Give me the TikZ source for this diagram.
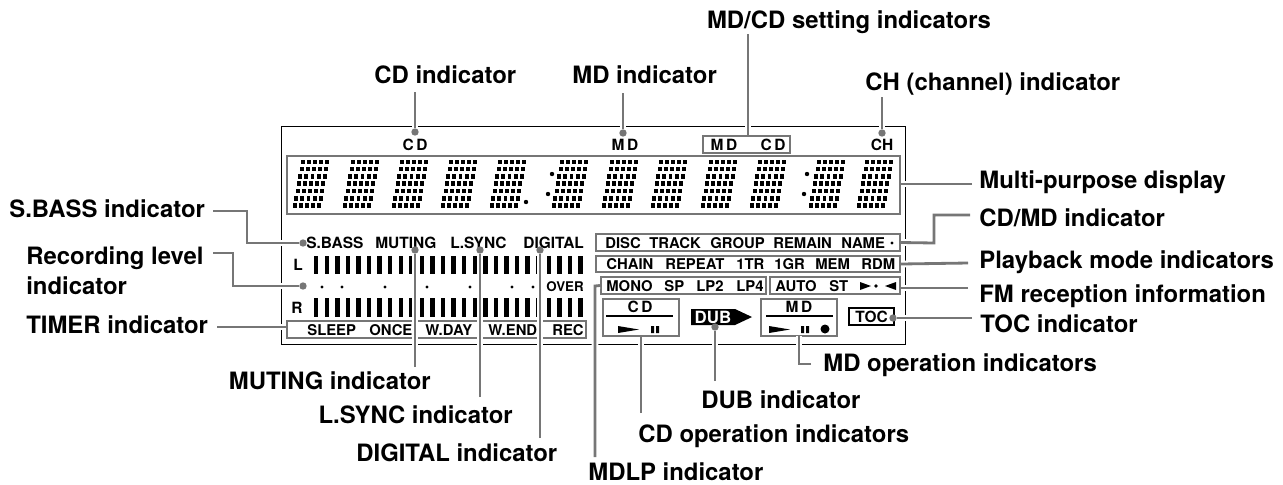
\documentclass[tikz,border=0pt]{standalone}
\usepackage{fontspec}
\usepackage{tikz}
\setmainfont{TeX Gyre Heros}
\definecolor{leadgray}{RGB}{118,118,118}
\newcommand{\dotdigit}[1]{%
  \foreach \r in {0,...,6} \foreach \c in {0,...,4}
    \fill ({#1+\c*6.1-\r*1.33},{159.5+\r*7.3}) rectangle +(3.9,4.6);}
\begin{document}
\begin{tikzpicture}[x=0.02cm, y=-0.02cm,
  callout/.style={inner sep=0, font=\fontsize{13.6}{17}\selectfont\bfseries},
  tag/.style={inner sep=0, anchor=base west, font=\fontsize{8.45}{10}\selectfont\bfseries},
  bigtag/.style={tag, font=\fontsize{8.8}{10}\selectfont\bfseries},
  wide/.style={tag, anchor=base, font=\fontsize{8.8}{10}\selectfont\bfseries},
  panel/.style={draw=leadgray, line width=1.3pt, inner sep=0},
  pin/.style={circle, fill=leadgray, inner sep=0, minimum size=4.2pt},
  lead/.style={draw=leadgray, line width=1.6pt, preaction={draw=white, line width=3.8pt}}]
\useasboundingbox (0,0) rectangle (1283,484);
\draw[line width=0.55pt] (281,126) rectangle (905,344);
% display panels
\node[panel, minimum width=613*0.02cm, minimum height=58*0.02cm] (display) at (593.5,185) {};
\node[panel, minimum width=87*0.02cm, minimum height=17*0.02cm] (settingbox) at (746.5,144.5) {};
\node[panel, minimum width=299*0.02cm, minimum height=17*0.02cm] (timerbox) at (436.5,329.5) {};
\node[panel, minimum width=304*0.02cm, minimum height=17*0.02cm] (discbox) at (748,242.5) {};
\node[panel, minimum width=304*0.02cm, minimum height=16*0.02cm] (modebox) at (748,264) {};
\node[panel, minimum width=165*0.02cm, minimum height=17*0.02cm] (mdlpbox) at (683.5,285.5) {};
\node[panel, minimum width=130*0.02cm, minimum height=17*0.02cm] (fmbox) at (835,285.5) {};
\node[panel, minimum width=76*0.02cm, minimum height=37*0.02cm] (cdbox) at (641,317.5) {};
\node[panel, minimum width=76*0.02cm, minimum height=37*0.02cm] (mdbox) at (799,317.5) {};
\node[draw, line width=0.9pt, inner sep=0, minimum width=45*0.02cm, minimum height=17*0.02cm, font=\fontsize{8.8}{10}\selectfont\bfseries] (tocbox) at (871.5,316.5) {TOC};
% dot matrix digits
\foreach \x in {301,351,400,449,498,560,610,659,709,758,817,865} {\dotdigit{\x}}
\fill (526,202) circle (2.2) (552,174) circle (2.2) (548,194) circle (2.2) (807,174) circle (2.2) (804,194) circle (2.2);
% level bars
\foreach \i in {0,...,25} {
  \fill ({314+\i*10.57},256) rectangle +(4.4,18);
  \fill ({314+\i*10.57},298) rectangle +(4.4,19);}
\foreach \x in {322,342,385,427,470,512,533} {\fill (\x,287) circle (1.7);}
% texts in the display
\node[wide] (cdmark) at (415,150) {C\,D};
\node[wide] (mdmark) at (625,150) {M\,D};
\node[wide] (chmark) at (882,150) {CH};
\node[wide] (setmd) at (724,150) {M\,D};
\node[wide] (setcd) at (773,150) {C\,D};
\node[bigtag] (sbass) at (306,248) {S.BASS};
\node[bigtag] (muting) at (375,248) {MUTING};
\node[bigtag] (lsync) at (450,248) {L.SYNC};
\node[bigtag] (digital) at (523,248) {DIGITAL};
\node[wide] (lmark) at (298,270) {L};
\node[wide] (rmark) at (297,313) {R};
\node[tag, font=\fontsize{7.6}{9}\selectfont\bfseries] (over) at (546,291) {OVER};
\node[tag] (sleep) at (307,335) {SLEEP};
\node[tag] (once) at (369,335) {ONCE};
\node[tag] (wday) at (425,335) {W.DAY};
\node[tag] (wend) at (488,335) {W.END};
\node[tag] (rec) at (552,335) {REC};
\node[tag] (disc) at (605,248) {DISC};
\node[tag] (track) at (649,248) {TRACK};
\node[tag] (group) at (710,248) {GROUP};
\node[tag] (remain) at (773,248) {REMAIN};
\node[tag] (name) at (841,248) {NAME};
\node[circle, fill, inner sep=0, minimum size=1.9pt] (namedot) at (892,243) {};
\node[tag] (chain) at (606,269) {CHAIN};
\node[tag] (repeat) at (665,269) {REPEAT};
\node[tag] (tr) at (736,269) {1TR};
\node[tag] (gr) at (774,269) {1GR};
\node[tag] (mem) at (815,269) {MEM};
\node[tag] (rdm) at (861,269) {RDM};
\node[tag] (mono) at (606,291) {MONO};
\node[tag] (sp) at (664,291) {SP};
\node[tag] (lptwo) at (696,291) {LP2};
\node[tag] (lpfour) at (736,291) {LP4};
\node[tag] (auto) at (775,291) {AUTO};
\node[tag] (st) at (829,291) {ST};
\fill (860,282) -- (871,286) -- (860,290) -- cycle;
\fill (876,286) circle (1.9);
\fill (896,282) -- (885,286) -- (896,290) -- cycle;
% transport marks
\node[wide] (cdhead) at (640,312) {C\,D};
\node[wide] (mdhead) at (799,312) {M\,D};
\draw[line width=0.6pt] (606,316) -- (673,316) (766,316) -- (833,316);
\fill (618,326) -- (639,329.5) -- (618,333) -- cycle;
\fill (651,326) rectangle +(3.2,7) (656,326) rectangle +(3.2,7);
\fill (769,326) -- (790,329.5) -- (769,333) -- cycle;
\fill (801,326) rectangle +(3.2,7) (806,326) rectangle +(3.2,7);
\fill (825,329) circle (4.5);
\fill (691,309) -- (735,309) -- (752,317) -- (735,325) -- (691,325) -- cycle;
\node[inner sep=0, white, font=\fontsize{9.6}{10}\selectfont\bfseries] (dub) at (713,317) {DUB};
% pins and free ends of the leaders
\node[pin] (pcd) at (415,132) {};
\node[pin] (pmd) at (623,133) {};
\node[pin] (pch) at (882,133) {};
\node[pin] (psbass) at (303,243) {};
\node[pin] (plevel) at (303,286) {};
\node[pin] (pmuting) at (415,250) {};
\node[pin] (plsync) at (480,250) {};
\node[pin] (pdigital) at (540,250) {};
\node[pin] (pdub) at (715,327) {};
\node[pin] (ptoc) at (893,318) {};
\coordinate (ecd) at (415,92);
\coordinate (emd) at (623,93);
\coordinate (eset) at (748,34);
\coordinate (ech) at (882,97);
\coordinate (esbass) at (213,211);
\coordinate (elevel) at (213,253);
\coordinate (etimer) at (217,327);
\coordinate (emuting) at (415,367);
\coordinate (elsync) at (480,397);
\coordinate (edigital) at (540,438);
\coordinate (emdlp) at (595,457);
\coordinate (ecdop) at (641,413);
\coordinate (edub) at (715,381);
\coordinate (emdop) at (811,364);
\coordinate (emulti) at (972,184);
\coordinate (ecdmd) at (970,215);
\coordinate (emode) at (968,263);
\coordinate (efm) at (968,288);
\coordinate (etoc) at (972,318);
\draw[lead] (ecd) -- (pcd);
\draw[lead] (emd) -- (pmd);
\draw[lead] (eset) -- (eset |- settingbox.north);
\draw[lead] (ech) -- (pch);
\draw[lead] (esbass) -- (247,211) -- (247,243) -- (psbass);
\draw[lead] (elevel) -- (233,253) -- (233,286) -- (plevel);
\draw[lead] (etimer) -- (etimer -| timerbox.west);
\draw[lead] (emuting) -- (pmuting);
\draw[lead] (elsync) -- (plsync);
\draw[lead] (edigital) -- (pdigital);
\draw[lead] (emdlp) -- (595,286) -- (mdlpbox.west);
\draw[lead] (ecdop) -- (ecdop |- cdbox.south);
\draw[lead] (edub) -- (pdub);
\draw[lead] (emdop) -- (799,364) -- (799,336);
\draw[lead] (emulti) -- (emulti -| display.east);
\draw[lead] (ecdmd) -- (934,215) -- (934,243) -- (discbox.east);
\draw[lead] (emode) -- (modebox.east);
\draw[lead] (efm) -- (efm -| fmbox.east);
\draw[lead] (etoc) -- (ptoc);
% callouts
\node[callout, anchor=base] (lbset) at (849,28) {MD/CD setting indicators};
\node[callout, anchor=base west] (lbcd) at (374,83) {CD indicator};
\node[callout, anchor=base west] (lbmd) at (572,83) {MD indicator};
\node[callout, anchor=base west] (lbch) at (865,90) {CH (channel) indicator};
\node[callout, anchor=base west] (lbsbass) at (9,217) {S.BASS indicator};
\node[callout, anchor=north west, align=left] (lblevel) at (26,246) {Recording level\\indicator};
\node[callout, anchor=base west] (lbtimer) at (26,333) {TIMER indicator};
\node[callout, anchor=base east] (lbmuting) at (431,389) {MUTING indicator};
\node[callout, anchor=base east] (lblsync) at (513,423) {L.SYNC indicator};
\node[callout, anchor=base west] (lbdigital) at (356,461) {DIGITAL indicator};
\node[callout, anchor=base west] (lbmdlp) at (588,480) {MDLP indicator};
\node[callout, anchor=base west] (lbcdop) at (638,442) {CD operation indicators};
\node[callout, anchor=base west] (lbdub) at (701,408) {DUB indicator};
\node[callout, anchor=base west] (lbmdop) at (823,371) {MD operation indicators};
\node[callout, anchor=base west] (lbmulti) at (979,188) {Multi-purpose display};
\node[callout, anchor=base west] (lbcdmd) at (979,226) {CD/MD indicator};
\node[callout, anchor=base west] (lbmode) at (979,268) {Playback mode indicators};
\node[callout, anchor=base west] (lbfm) at (979,302) {FM reception information};
\node[callout, anchor=base west] (lbtoc) at (980,332) {TOC indicator};
\end{tikzpicture}
\end{document}
